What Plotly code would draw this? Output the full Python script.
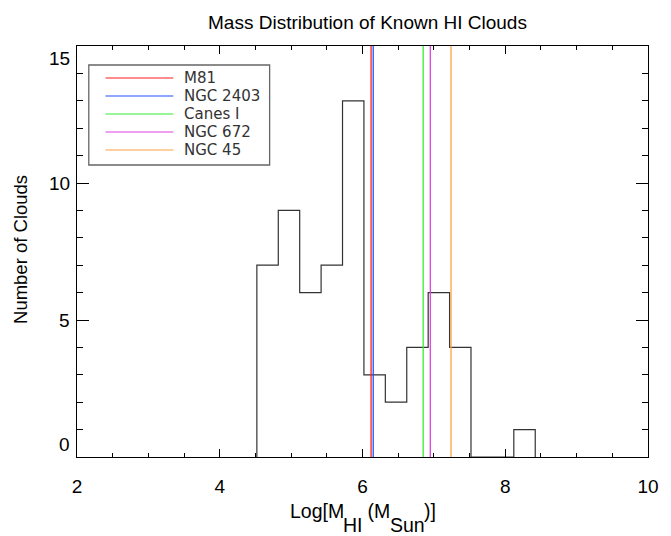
import plotly.graph_objects as go

# Histogram of cloud masses (log10 M_HI), bins of 0.3 dex
bin_edges = [4.52, 4.82, 5.12, 5.42, 5.72, 6.02, 6.32, 6.62, 6.92, 7.22, 7.52, 7.82, 8.12, 8.42]
counts = [7, 9, 6, 7, 13, 3, 2, 4, 6, 4, 0, 0, 1]

# Reference masses of known HI clouds
cloud_names = ["M81", "NGC 2403", "Canes I", "NGC 672", "NGC 45"]
cloud_logmass = [6.12, 6.15, 6.85, 6.95, 7.24]
cloud_colors = ["#ff1a1a", "#1f4fff", "#33ee33", "#e040e0", "#ffa040"]

x_ticks = [2, 4, 6, 8, 10]
y_ticks = [0, 5, 10, 15]

title_text = "Mass Distribution of Known HI Clouds"
y_title = "Number of Clouds"
# x-axis title pieces: (text, is_subscript)
x_title_parts = [("Log[M", False), ("HI", True), (" (M", False), ("Sun", True), (")]", False)]

FONT = "Liberation Sans, Arial, Helvetica, sans-serif"

# canvas and plot-area geometry (pixels)
W, H = 671, 536
L, R, T, B = 77, 13, 46, 79
pw, ph = W - L - R, H - T - B
px = lambda p: (p - L) / pw
py = lambda p: (H - B - p) / ph

# step outline of the histogram
step_x = [bin_edges[0]] + bin_edges[:-1] + [bin_edges[-1]]
step_y = [0] + counts + [0]

fig = go.Figure()
fig.add_trace(go.Scatter(
    x=step_x, y=step_y, mode="lines", line=dict(color="#333333", width=1.2, shape="hv"),
    showlegend=False, hoverinfo="skip"))

for name, m, c in zip(cloud_names, cloud_logmass, cloud_colors):
    fig.add_trace(go.Scatter(
        x=[m, m], y=[0, 15], mode="lines", line=dict(color=c, width=1.3),
        name=name, showlegend=False))

shapes = []
annotations = []

# legend box in the upper left of the plot area
shapes.append(dict(type="rect", xref="paper", yref="paper", x0=px(89), x1=px(273), y0=py(165), y1=py(65),
                   line=dict(color="#666666", width=1.3), fillcolor="white", layer="below"))
for i, (name, c) in enumerate(zip(cloud_names, cloud_colors)):
    yy = py(78 + 18 * i)
    shapes.append(dict(type="line", xref="paper", yref="paper", x0=px(106), x1=px(175), y0=yy, y1=yy,
                       line=dict(color=c, width=1.2)))
    annotations.append(dict(xref="paper", yref="paper", x=px(185), y=yy, text=name, showarrow=False,
                            xanchor="left", yanchor="middle", borderpad=0,
                            font=dict(family="DejaVu Sans", size=15, color="#333333")))

# y tick labels, end labels kept inside the axis span
for v in y_ticks:
    anchor = "top" if v == max(y_ticks) else ("bottom" if v == min(y_ticks) else "middle")
    annotations.append(dict(xref="paper", yref="y", x=0, y=v, text=str(v), showarrow=False,
                            xanchor="right", yanchor=anchor, xshift=-5,
                            font=dict(family=FONT, size=19, color="black")))

# y axis title
annotations.append(dict(xref="paper", yref="paper", x=px(20), y=py(249), text=y_title, textangle=-90,
                        showarrow=False, xanchor="center", yanchor="middle",
                        font=dict(family=FONT, size=18.5, color="black")))

# x axis title with full-size, deeply lowered subscripts
ARIAL_W = {"L": .556, "o": .556, "g": .556, "[": .278, "M": .833, "H": .722, "I": .278, " ": .278,
           "(": .333, "S": .667, "u": .556, "n": .556, ")": .333, "]": .278}
XT_SIZE = 19.5
seg_w = [sum(ARIAL_W[ch] for ch in s) * XT_SIZE for s, _ in x_title_parts]
cursor = (L + W - R) / 2 - sum(seg_w) / 2
for (s, is_sub), w in zip(x_title_parts, seg_w):
    annotations.append(dict(xref="paper", yref="paper", x=px(cursor - 2), y=py(525 if is_sub else 511),
                            text=s.replace(" ", "&nbsp;"), showarrow=False, xanchor="left", yanchor="middle",
                            font=dict(family=FONT, size=XT_SIZE, color="black")))
    cursor += w

fig.update_layout(
    width=W, height=H, margin=dict(l=L, r=R, t=T, b=B),
    paper_bgcolor="white", plot_bgcolor="white",
    title=dict(text=title_text, x=(L + W - R) / 2 / W, xanchor="center",
               y=1 - 22.5 / H, yanchor="middle", font=dict(family=FONT, size=19, color="black")),
    font=dict(family=FONT, size=19, color="black"),
    shapes=shapes, annotations=annotations,
    showlegend=False,
)
fig.update_xaxes(
    range=[2, 10], tickvals=x_ticks, ticks="inside", ticklen=8, tickwidth=1, tickcolor="black",
    minor=dict(dtick=0.5, ticklen=4, ticks="inside", tickcolor="black"),
    ticklabelstandoff=12,
    showline=True, linecolor="black", linewidth=1.4, mirror="ticks", showgrid=False, zeroline=False,
)
fig.update_yaxes(
    range=[0, 15], tickvals=y_ticks, ticks="inside", ticklen=12, tickwidth=1, tickcolor="black",
    minor=dict(dtick=1, ticklen=6, ticks="inside", tickcolor="black"),
    showticklabels=False,
    showline=True, linecolor="black", linewidth=1.4, mirror="ticks", showgrid=False, zeroline=False,
)

fig.write_html("out.html")
